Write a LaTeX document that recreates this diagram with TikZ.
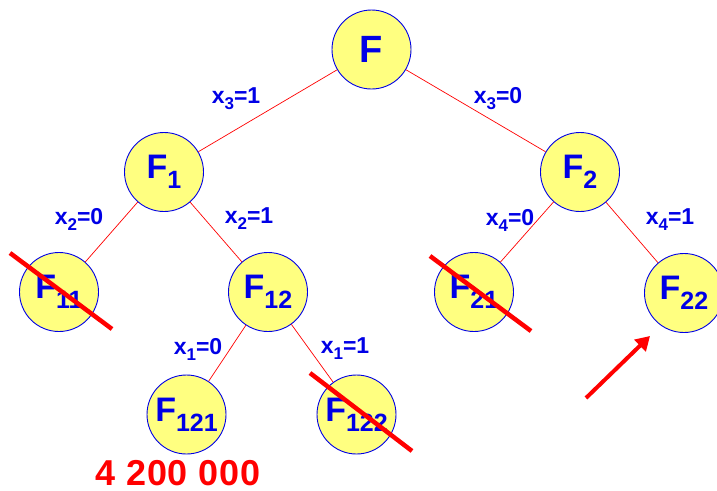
\documentclass[tikz,border=0pt]{standalone}
\usepackage{fontspec}
\setmainfont{Liberation Sans}
\usetikzlibrary{arrows.meta}
\definecolor{nodeyellow}{RGB}{255,255,128}
\definecolor{nodeblue}{RGB}{0,0,230}
\definecolor{linered}{RGB}{255,0,0}
\newcommand{\nlab}[1]{\fontsize{34}{34}\selectfont\bfseries F\raisebox{-10pt}{\fontsize{25}{25}\selectfont #1}}
\newcommand{\elab}[3]{\fontsize{23}{23}\selectfont\bfseries #1\raisebox{-6pt}{\fontsize{17}{17}\selectfont #2}=#3}
\begin{document}
\begin{tikzpicture}[x=1pt,y=-1pt,
  tnode/.style={circle,draw=nodeblue,line width=0.9pt,fill=nodeyellow,minimum size=79pt,inner sep=0pt,text=nodeblue},
  edge/.style={draw=linered,line width=0.7pt},
  elabel/.style={text=nodeblue,inner sep=0pt},
  strike/.style={draw=linered,line width=4.5pt},
  bigarrow/.style={draw=linered,line width=4pt,-{Triangle[length=14pt,width=16pt]}}]
\useasboundingbox (0,0) rectangle (717,490);
\node[tnode] (F) at (371.5,49.5) {\fontsize{38}{38}\selectfont\bfseries F};
\node[tnode] (F1) at (164,172) {\nlab{1}};
\node[tnode] (F2) at (580,172) {\nlab{2}};
\node[tnode] (F11) at (59,292) {\nlab{11}};
\node[tnode] (F12) at (268,292) {\nlab{12}};
\node[tnode] (F21) at (474,292) {\nlab{21}};
\node[tnode] (F22) at (684,293) {\nlab{22}};
\node[tnode] (F121) at (186.5,414.5) {\nlab{121}};
\node[tnode] (F122) at (356.5,414.5) {\nlab{122}};
\draw[edge] (F) -- (F1);
\draw[edge] (F) -- (F2);
\draw[edge] (F1) -- (F11);
\draw[edge] (F1) -- (F12);
\draw[edge] (F2) -- (F21);
\draw[edge] (F2) -- (F22);
\draw[edge] (F12) -- (F121);
\draw[edge] (F12) -- (F122);
\node[elabel] (l31) at (236,99) {\elab{x}{3}{1}};
\node[elabel] (l30) at (498,99) {\elab{x}{3}{0}};
\node[elabel] (l20) at (79,219) {\elab{x}{2}{0}};
\node[elabel] (l21) at (249,219) {\elab{x}{2}{1}};
\node[elabel] (l40) at (510,220) {\elab{x}{4}{0}};
\node[elabel] (l41) at (670,220) {\elab{x}{4}{1}};
\node[elabel] (l10) at (198,349) {\elab{x}{1}{0}};
\node[elabel] (l11) at (345,349) {\elab{x}{1}{1}};
\coordinate (s1a) at (10,253); \coordinate (s1b) at (112,329);
\coordinate (s2a) at (430,256); \coordinate (s2b) at (531,331);
\coordinate (s3a) at (310,373); \coordinate (s3b) at (412,451);
\draw[strike] (s1a) -- (s1b);
\draw[strike] (s2a) -- (s2b);
\draw[strike] (s3a) -- (s3b);
\coordinate (atail) at (586,398);
\coordinate (ahead) at (650,336);
\draw[bigarrow] (atail) -- (ahead);
\node[text=linered,inner sep=0pt,text depth=0pt,anchor=base] (count) at (178,485) {\fontsize{36}{36}\selectfont\bfseries\addfontfeature{LetterSpace=2} 4 200 000};
\end{tikzpicture}
\end{document}
